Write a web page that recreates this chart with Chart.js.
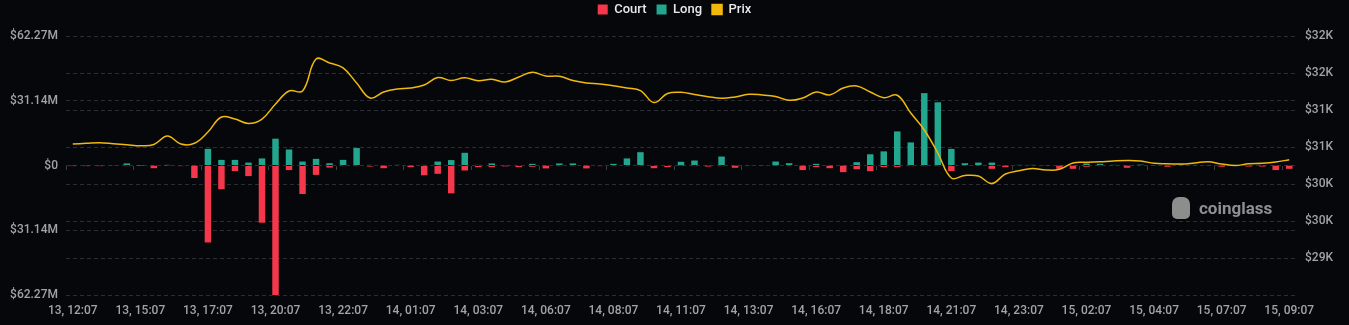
<!DOCTYPE html>
<html>
<head>
<meta charset="utf-8">
<script src="https://cdn.jsdelivr.net/npm/chart.js@4"></script>
<style>
    html, body { margin: 0; padding: 0; background: #05070b; }
    #wrap { position: relative; width: 1349px; height: 325px; }
    #logo { position: absolute; left: 1172px; top: 197px; display: flex; align-items: center; }
    #logo .bete { width: 18px; height: 22px; background: #8d8d8d; border-radius: 7px 7px 5px 5px; margin-right: 9px; }
    #logo span { font-family: "Roboto", sans-serif; font-weight: 700; font-size: 17px; color: #8f8f8f; }
</style>
</head>
<body>
<div id="wrap">
    <canvas id="grafico" width="1349" height="325"></canvas>
    <div id="logo"><div class="bete"></div><span>coinglass</span></div>
</div>
<script>
// ==========================
// DONNEES
// ==========================
const tickLabels = [
    "13, 12:07", "13, 15:07", "13, 17:07", "13, 20:07", "13, 22:07",
    "14, 01:07", "14, 03:07", "14, 06:07", "14, 08:07", "14, 11:07",
    "14, 13:07", "14, 16:07", "14, 18:07", "14, 21:07", "14, 23:07",
    "15, 02:07", "15, 04:07", "15, 07:07", "15, 09:07"
];

// une categorie toutes les 30 min, une etiquette toutes les 5
const categories = tickLabels.flatMap((t, i) => i < tickLabels.length - 1 ? [t, "", "", "", ""] : [t]);

// liquidations longues (millions $)
const long = [
    0.1, 0.1, 0.1, 0.2, 1.0, 0.1, 0.1, 0.3, 0.2, 0.1,
    8.0, 2.7, 2.7, 1.4, 3.4, 12.9, 7.7, 1.9, 3.2, 1.1,
    2.7, 8.4, 0.3, 0.1, 0.3, 0.1, 0.3, 1.9, 2.6, 6.1,
    0.3, 1.0, 0.1, 0.2, 0.8, 0.1, 1.0, 1.0, 0.1, 0.2,
    0.8, 3.4, 6.4, 0.2, 0.2, 1.8, 2.4, 0.1, 4.3, 0.1,
    0.2, 0.2, 1.9, 1.1, 0.1, 0.8, 0.1, 0.1, 1.6, 5.4,
    6.8, 16.4, 11.1, 34.8, 30.4, 8.0, 1.1, 1.4, 1.4, 0.1,
    0.3, 0.3, 0.2, 0.1, 0.1, 1.0, 0.8, 0.3, 0.1, 0.4,
    0.2, 0.1, 0.5, 0.3, 0.2, 0.1, 0.3, 0.1, 0.1, 0.1,
    0.1
];

// liquidations courtes (millions $, negatif)
const court = [
    -0.3, -0.3, -0.3, -0.2, -0.3, -0.1, -1.3, -0.1, -0.3, -6.0,
    -37.0, -11.4, -2.7, -5.1, -27.5, -62.27, -2.2, -13.7, -4.5, -1.0,
    -0.3, -0.3, -0.5, -1.3, -0.2, -0.8, -4.7, -4.0, -13.4, -2.4,
    -0.8, -0.8, -0.4, -0.8, -0.6, -1.4, -0.3, -0.3, -1.4, -0.3,
    -0.3, -0.3, -0.3, -1.3, -0.8, -0.1, -0.3, -0.5, -0.3, -1.1,
    -0.2, -0.2, -0.1, -0.3, -2.2, -0.8, -1.3, -3.2, -1.8, -2.7,
    -0.8, -0.8, -0.3, -0.3, -0.3, -2.7, -0.2, -0.2, -1.6, -0.8,
    -0.2, -0.2, -0.2, -1.6, -1.6, -0.6, -0.3, -0.2, -1.1, -0.2,
    -0.2, -0.6, -0.2, -0.2, -0.2, -0.6, -0.2, -0.5, -0.5, -2.2,
    -1.6
];

// prix BTC ($)
const prix = [
    30540, 30550, 30558, 30545, 30531, 30518, 30534, 30649, 30540, 30550,
    30703, 30905, 30878, 30818, 30878, 31081, 31257, 31257, 31689, 31635,
    31568, 31365, 31162, 31243, 31284, 31297, 31338, 31439, 31399, 31436,
    31396, 31415, 31378, 31446, 31509, 31459, 31455, 31399, 31366, 31351,
    31328, 31297, 31263, 31101, 31223, 31239, 31209, 31180, 31158, 31176,
    31212, 31203, 31182, 31131, 31162, 31243, 31203, 31297, 31324, 31243,
    31166, 31199, 30959, 30730, 30419, 30081, 30115, 30108, 30007, 30135,
    30180, 30209, 30189, 30199, 30284, 30293, 30301, 30311, 30317, 30311,
    30280, 30274, 30270, 30284, 30301, 30270, 30250, 30274, 30280, 30297,
    30328
];

const gaucheValeurs = [-62.27, -31.135, 0, 31.135, 62.27];
const gaucheLabels = ["$62.27M", "$31.14M", "$0", "$31.14M", "$62.27M"];

const droiteValeurs = [28500, 29000, 29500, 30000, 30500, 31000, 31500, 32000];
const droiteLabels = ["", "$29K", "$30K", "$30K", "$31K", "$31K", "$32K", "$32K"];

// ==========================
// STYLE
// ==========================
const ROUGE = "#f5374b";
const VERT = "#22a68e";
const JAUNE = "#f0b90b";
const GRILLE = "#2a2d33";
const TEXTE = "#a3a3a3";

Chart.defaults.font.family = "Roboto, sans-serif";
Chart.defaults.font.size = 12;

// remonte la legende sans bouger la zone du graphique
const legendeHaut = {
    id: "legendeHaut",
    afterLayout(chart) {
        chart.legend.top -= 10;
        chart.legend.bottom -= 10;
    }
};

const ctx = document.getElementById("grafico");

new Chart(ctx, {
    data: {
        labels: categories,
        datasets: [
            {
                type: "bar",
                label: "Court",
                data: court,
                backgroundColor: ROUGE,
                borderWidth: 0,
                barPercentage: 0.48,
                categoryPercentage: 1,
                yAxisID: "y",
                order: 2
            },
            {
                type: "bar",
                label: "Long",
                data: long,
                backgroundColor: VERT,
                borderWidth: 0,
                barPercentage: 0.48,
                categoryPercentage: 1,
                yAxisID: "y",
                order: 2
            },
            {
                type: "line",
                label: "Prix",
                data: prix,
                borderColor: JAUNE,
                backgroundColor: JAUNE,
                borderWidth: 1.5,
                pointRadius: 0,
                tension: 0.4,
                yAxisID: "y1",
                order: 1
            }
        ]
    },
    plugins: [legendeHaut],
    options: {
        responsive: false,
        animation: false,
        layout: {
            padding: 0
        },
        plugins: {
            legend: {
                position: "top",
                labels: {
                    color: "#e8e8e8",
                    boxWidth: 10,
                    boxHeight: 10,
                    padding: 10,
                    font: { size: 13, weight: "500" },
                    sort: (a, b) => a.datasetIndex - b.datasetIndex
                }
            },
            tooltip: { enabled: false }
        },
        scales: {
            x: {
                stacked: true,
                offset: true,
                grid: { display: false, drawTicks: false },
                border: { display: false },
                ticks: {
                    color: TEXTE,
                    autoSkip: false,
                    maxRotation: 0,
                    padding: 9,
                    font: { weight: "500" },
                    callback: (v, i) => categories[i]
                },
                afterFit: (s) => { s.height = 30; }
            },
            x2: {
                axis: "x",
                type: "category",
                position: { y: 0 },
                offset: true,
                ticks: { display: false },
                border: { display: false },
                grid: {
                    offset: true,
                    drawOnChartArea: false,
                    drawTicks: true,
                    tickLength: 4,
                    color: (c) => c.index % 5 === 0 ? "#3a3d44" : "transparent"
                }
            },
            y: {
                stacked: true,
                position: "left",
                min: -62.27,
                max: 62.27,
                afterBuildTicks: (s) => { s.ticks = gaucheValeurs.map(v => ({ value: v })); },
                ticks: {
                    color: TEXTE,
                    padding: 8,
                    font: { weight: "500" },
                    callback: (v) => gaucheLabels[gaucheValeurs.indexOf(v)]
                },
                grid: { color: GRILLE, drawTicks: false },
                border: { display: false, dash: [4, 3] },
                afterFit: (s) => { s.width = 66; s.paddingTop = 36; }
            },
            y1: {
                position: "right",
                min: 28500,
                max: 32000,
                afterBuildTicks: (s) => { s.ticks = droiteValeurs.map(v => ({ value: v })); },
                ticks: {
                    color: TEXTE,
                    padding: 9,
                    font: { weight: "500" },
                    callback: (v) => droiteLabels[droiteValeurs.indexOf(v)]
                },
                grid: { color: GRILLE, drawTicks: false },
                border: { display: false, dash: [4, 3] },
                afterFit: (s) => { s.width = 53; }
            }
        }
    }
});
</script>
</body>
</html>
